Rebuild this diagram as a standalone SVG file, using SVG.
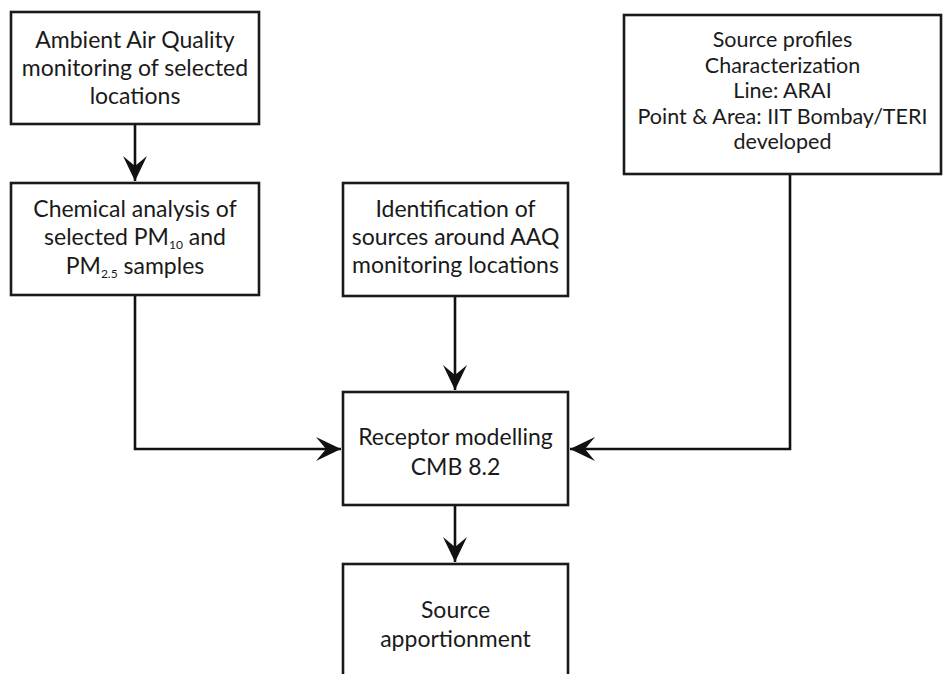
<svg xmlns="http://www.w3.org/2000/svg" width="944" height="674" viewBox="0 0 944 674">
<defs>
<style>
.box{fill:#fff;stroke:#1a1a1a;stroke-width:2.6}
.t{font-family:Lato,"Open Sans",sans-serif;font-size:23px;fill:#1a1a1a;text-anchor:middle}
.s{font-size:21.5px}
.sub{font-size:12px}
.c{fill:none;stroke:#111;stroke-width:2.6}
</style>
<marker id="ah" markerUnits="userSpaceOnUse" viewBox="-26 -13 27 26" markerWidth="27" markerHeight="26" refX="0" refY="0" orient="auto">
<path d="M0,0 L-25,-12 L-15,0 L-25,12 Z" fill="#111"/>
</marker>
</defs>
<rect width="944" height="674" fill="#fff"/>
<g id="connectors">
<path class="c" d="M135,124 V181" marker-end="url(#ah)"/>
<path class="c" d="M135,295 V449 H341" marker-end="url(#ah)"/>
<path class="c" d="M455,296 V390" marker-end="url(#ah)"/>
<path class="c" d="M790,174 V449 H570" marker-end="url(#ah)"/>
<path class="c" d="M455,505 V562" marker-end="url(#ah)"/>
</g>
<g id="n1">
<rect class="box" x="11" y="12" width="248" height="112"/>
<text class="t" x="135" y="48">Ambient Air Quality</text>
<text class="t" x="135" y="76">monitoring of selected</text>
<text class="t" x="135" y="104">locations</text>
</g>
<g id="n2">
<rect class="box" x="11" y="183" width="248" height="112"/>
<text class="t" x="135" y="217">Chemical analysis of</text>
<text class="t" x="135" y="245">selected PM<tspan class="sub" dy="4">10</tspan><tspan dy="-4"> and</tspan></text>
<text class="t" x="135" y="274">PM<tspan class="sub" dy="4">2.5</tspan><tspan dy="-4"> samples</tspan></text>
</g>
<g id="n3">
<rect class="box" x="343" y="183" width="225" height="113"/>
<text class="t" x="455.5" y="217">Identification of</text>
<text class="t" x="455.5" y="245">sources around AAQ</text>
<text class="t" x="455.5" y="273">monitoring locations</text>
</g>
<g id="n4">
<rect class="box" x="624" y="15" width="317" height="159"/>
<text class="t s" x="782.5" y="47">Source profiles</text>
<text class="t s" x="782.5" y="73">Characterization</text>
<text class="t s" x="782.5" y="98">Line: ARAI</text>
<text class="t s" x="782.5" y="124">Point &amp; Area: IIT Bombay/TERI</text>
<text class="t s" x="782.5" y="149">developed</text>
</g>
<g id="n5">
<rect class="box" x="343" y="392" width="225" height="113"/>
<text class="t" x="455.5" y="445">Receptor modelling</text>
<text class="t" x="455.5" y="475">CMB 8.2</text>
</g>
<g id="n6">
<rect class="box" x="343" y="564" width="225" height="130"/>
<text class="t" x="455.5" y="618">Source</text>
<text class="t" x="455.5" y="647">apportionment</text>
</g>
</svg>
